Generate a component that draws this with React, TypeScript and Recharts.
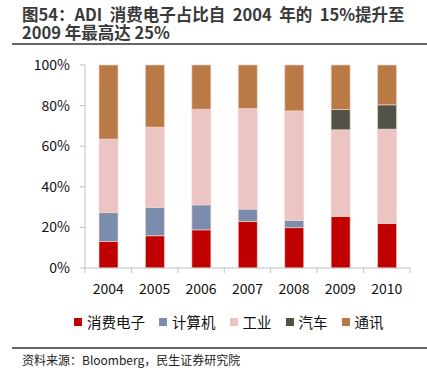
import React from "react";
import { BarChart, Bar, XAxis, YAxis } from "recharts";

const years = ["2004", "2005", "2006", "2007", "2008", "2009", "2010"];
const consumer = [13.1, 15.9, 18.8, 22.9, 19.9, 25.4, 21.9];
const computer = [14.2, 13.9, 12.3, 6.1, 3.5, 0, 0];
const industrial = [36.2, 39.6, 47.1, 49.6, 54.0, 42.7, 46.5];
const auto = [0, 0, 0, 0, 0, 10.0, 12.0];
const telecom = [36.5, 30.6, 21.8, 21.4, 22.6, 21.9, 19.6];
const yTicks = [0, 20, 40, 60, 80, 100];

const series = [
  { key: "consumer", name: "消费电子", color: "#C00000", values: consumer },
  { key: "computer", name: "计算机", color: "#7B8CAC", values: computer },
  { key: "industrial", name: "工业", color: "#ECC4C4", values: industrial },
  { key: "auto", name: "汽车", color: "#525248", values: auto },
  { key: "telecom", name: "通讯", color: "#B97A45", values: telecom },
];

const data = years.map((y, i) => {
  const row: any = { year: y };
  series.forEach((s) => (row[s.key] = s.values[i]));
  return row;
});

const FONT = '"Noto Sans CJK SC", "Noto Sans", sans-serif';
const AXIS = "#bfbfbf";

const W = 427;
const H = 377;
const ML = 25;
const MR = 17;
const YW = 60;
const STEP = (W - ML - MR - YW) / years.length;

const XTick = (props: any) => {
  const { x, y, payload, index } = props;
  const top = y;
  return (
    <g>
      <line x1={x - STEP / 2} x2={x - STEP / 2} y1={top} y2={top + 5} stroke={AXIS} />
      {index === years.length - 1 && (
        <line x1={x + STEP / 2} x2={x + STEP / 2} y1={top} y2={top + 5} stroke={AXIS} />
      )}
      <text x={x} y={top + 26} textAnchor="middle" fontSize={14} fill="#111" fontFamily={FONT}>
        {payload.value}
      </text>
    </g>
  );
};

export default function App() {
  return (
    <div style={{ position: "absolute", left: 0, top: 0, width: W, height: H, background: "#fff", fontFamily: FONT }}>
      <div
        style={{
          position: "absolute",
          left: 22,
          top: 5,
          fontSize: 16.5,
          fontWeight: 700,
          color: "#3a3a3a",
          lineHeight: "18px",
          whiteSpace: "pre",
        }}
      >
        {"图54：ADI  消费电子占比自  2004  年的  15%提升至\n2009 年最高达 25%"}
      </div>
      <div style={{ position: "absolute", left: 12, top: 43, width: 415, height: 2, background: "#666" }} />
      <div style={{ position: "absolute", left: 0, top: 0 }}>
        <BarChart width={W} height={H} data={data} margin={{ top: 65, right: MR, left: ML, bottom: 79 }} barSize={19}>
          <XAxis
            dataKey="year"
            axisLine={{ stroke: AXIS }}
            tickLine={false}
            tick={<XTick />}
            tickMargin={0}
            tickSize={0}
            height={30}
            interval={0}
          />
          <YAxis
            domain={[0, 100]}
            ticks={yTicks}
            width={YW}
            axisLine={{ stroke: AXIS }}
            tickLine={{ stroke: AXIS }}
            tickSize={5}
            tickMargin={10}
            tickFormatter={(v: number) => `${v}%`}
            tick={{ fontSize: 14, fill: "#111", fontFamily: FONT }}
          />
          {series.map((s) => (
            <Bar
              key={s.key}
              dataKey={s.key}
              name={s.name}
              stackId="a"
              fill={s.color}
              stroke="#f2d6cf"
              strokeWidth={0.6}
              isAnimationActive={false}
            />
          ))}
        </BarChart>
      </div>
      <div
        style={{
          position: "absolute",
          left: 74,
          top: 311,
          display: "flex",
          fontSize: 14.5,
          color: "#111",
          gap: 14,
          whiteSpace: "nowrap",
        }}
      >
        {series.map((s) => (
          <div key={s.key} style={{ display: "flex", alignItems: "center" }}>
            <span style={{ display: "inline-block", width: 8, height: 8, background: s.color, marginRight: 5 }} />
            <span>{s.name}</span>
          </div>
        ))}
      </div>
      <div style={{ position: "absolute", left: 12, top: 347, width: 415, height: 2, background: "#666" }} />
      <div style={{ position: "absolute", left: 22, top: 351, fontSize: 12, color: "#222" }}>
        资料来源：Bloomberg，民生证券研究院
      </div>
    </div>
  );
}
